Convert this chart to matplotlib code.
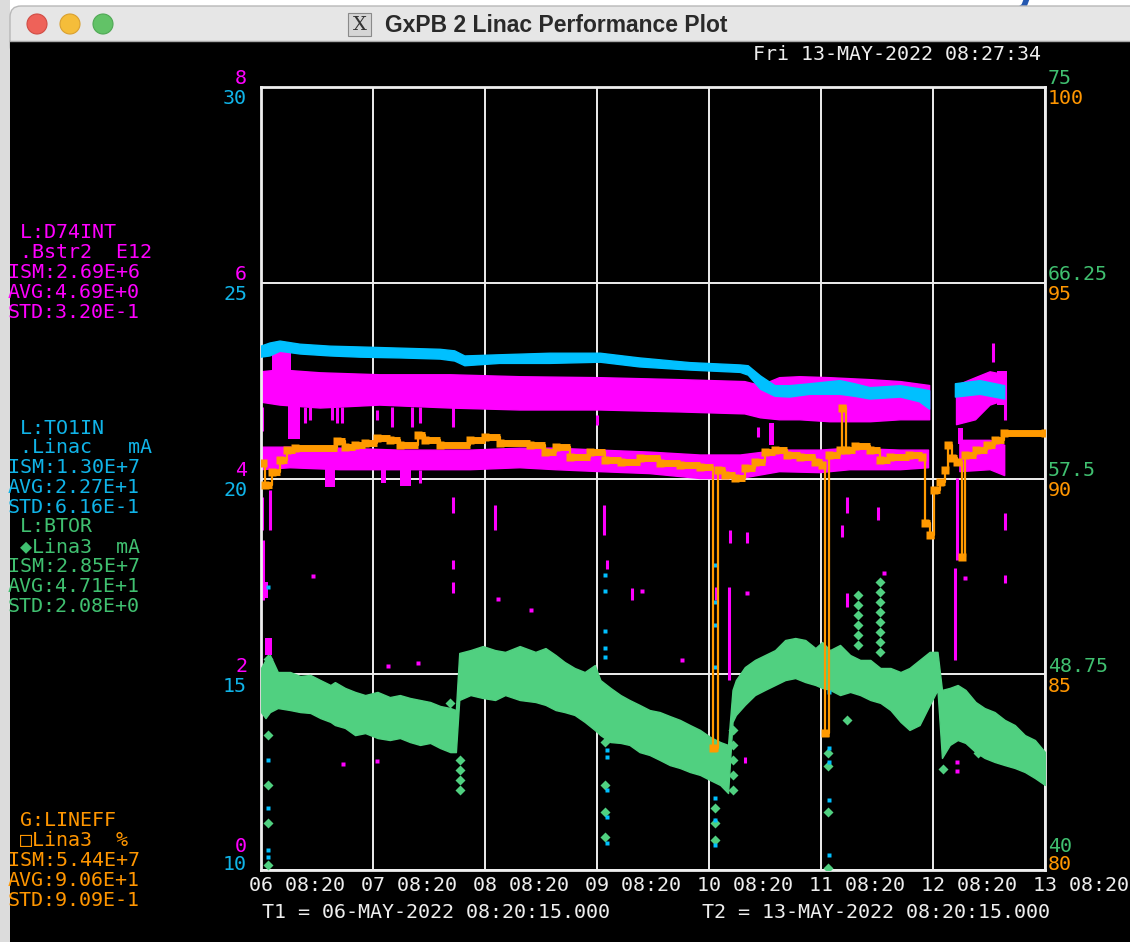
import matplotlib
matplotlib.use('Agg')
import matplotlib.pyplot as plt
from matplotlib.patches import Rectangle, Circle, FancyBboxPatch
from matplotlib.transforms import ScaledTranslation

# ---------------- data ----------------
day_ticks = [0, 1, 2, 3, 4, 5, 6, 7]
day_labels = ["06 08:20", "07 08:20", "08 08:20", "09 08:20", "10 08:20",
              "11 08:20", "12 08:20", "13 08:20"]
mag_ticks = [0, 2, 4, 6, 8]
mag_labels = ["0", "2", "4", "6", "8"]
cyan_ticks = [10, 15, 20, 25, 30]
cyan_labels = ["10", "15", "20", "25", "30"]
green_ticks = [40, 48.75, 57.5, 66.25, 75]
green_labels = ["40", "48.75", "57.5", "66.25", "75"]
orange_ticks = [80, 85, 90, 95, 100]
orange_labels = ["80", "85", "90", "95", "100"]

# L:TO1IN (cyan, mA) band
cy_t = [0.00, 0.08, 0.17, 0.35, 0.62, 0.88, 1.24, 1.60, 1.73, 1.82, 2.13, 2.58, 3.03, 3.38, 3.83,
        4.28, 4.35, 4.46, 4.59, 4.72, 4.90, 5.17, 5.30, 5.44, 5.71, 5.88, 5.97, 6.05, 6.20, 6.42, 6.64]
cy_hi = [23.38, 23.46, 23.51, 23.43, 23.38, 23.36, 23.33, 23.30, 23.26, 23.13, 23.16, 23.20, 23.20,
         23.08, 22.96, 22.90, 22.88, 22.62, 22.37, 22.37, 22.42, 22.50, 22.42, 22.32, 22.37, 22.29,
         22.24, float('nan'), 22.42, 22.50, 22.37]
cy_lo = [23.10, 23.13, 23.25, 23.18, 23.13, 23.10, 23.08, 23.05, 23.00, 22.88, 22.94, 22.94, 22.97,
         22.85, 22.77, 22.71, 22.64, 22.28, 22.10, 22.08, 22.15, 22.15, 22.10, 22.03, 22.08, 21.96,
         21.77, float('nan'), 22.08, 22.15, 22.03]
cy_dot_t = [0.06, 0.06, 0.06, 0.06, 0.06, 3.07, 3.07, 3.07, 3.07, 3.07, 3.09, 3.09, 3.09, 3.09, 3.09,
            4.05, 4.05, 4.05, 4.05, 4.05, 4.05, 4.05, 5.07, 5.07, 5.07, 5.07, 5.07]
cy_dot_v = [17.23, 12.81, 11.58, 10.51, 10.33, 17.54, 17.13, 16.10, 15.67, 15.44, 13.07, 12.89, 12.04,
            11.35, 10.69, 17.79, 16.85, 16.26, 15.19, 11.84, 11.28, 10.64, 14.55, 13.12, 12.76, 11.79,
            10.38]

# L:D74INT (magenta, E12) upper and lower bands
mu_t = [0.00, 0.17, 0.53, 1.06, 1.69, 2.31, 3.03, 3.74, 4.32, 4.46, 4.63, 4.81, 5.08, 5.44, 5.71,
        5.97, 6.05, 6.21, 6.38, 6.51, 6.64]
mu_hi = [5.09, 5.11, 5.08, 5.06, 5.06, 5.04, 5.03, 5.01, 4.99, 4.95, 5.03, 5.04, 5.03, 5.01, 4.99,
         4.95, float('nan'), 4.95, 5.03, 5.09, 5.06]
mu_lo = [4.78, 4.75, 4.72, 4.75, 4.72, 4.70, 4.70, 4.68, 4.66, 4.62, 4.60, 4.60, 4.58, 4.58, 4.60,
         4.60, float('nan'), 4.55, 4.60, 4.75, 4.80]
ml_t = [0.00, 0.26, 0.71, 1.24, 1.87, 2.31, 2.63, 3.03, 3.47, 3.92, 4.28, 4.63, 4.99, 5.26, 5.71,
        5.96, 6.05, 6.24, 6.51, 6.64]
ml_hi = [4.32, 4.32, 4.31, 4.29, 4.29, 4.31, 4.31, 4.29, 4.27, 4.24, 4.24, 4.29, 4.29, 4.31, 4.29,
         4.29, float('nan'), 4.39, 4.39, 4.34]
ml_lo = [4.09, 4.11, 4.09, 4.09, 4.09, 4.11, 4.09, 4.07, 4.05, 4.00, 4.00, 4.07, 4.06, 4.09, 4.09,
         4.11, float('nan'), 4.07, 4.09, 4.03]
# magenta dropouts (vertical dashes)
md_t = [0.01, 0.01, 0.02, 0.08, 0.39, 0.44, 0.63, 0.68, 0.72, 1.04, 1.17, 1.35, 1.42, 1.42, 1.71,
        1.71, 1.71, 1.71, 2.09, 3.00, 3.06, 3.09, 3.31, 4.06, 4.18, 4.19, 4.32, 4.34, 4.44, 5.19,
        5.23, 5.23, 5.51, 6.20, 6.21, 6.54, 6.64, 6.64, 6.64]
md_lo = [4.49, 3.47, 2.76, 3.47, 4.57, 4.60, 4.60, 4.57, 4.57, 4.60, 4.53, 4.53, 4.57, 3.95, 4.53,
         3.65, 3.08, 2.83, 3.47, 4.55, 3.42, 3.08, 2.76, 2.76, 1.94, 3.34, 1.09, 3.34, 4.42, 3.40,
         3.65, 2.69, 3.58, 2.15, 3.17, 5.19, 4.60, 3.47, 2.93]
md_hi = [4.73, 3.81, 3.37, 3.88, 4.73, 4.73, 4.73, 4.73, 4.73, 4.70, 4.73, 4.73, 4.73, 4.09, 4.73,
         3.81, 3.17, 2.94, 3.73, 4.65, 3.73, 3.17, 2.88, 2.89, 2.89, 3.47, 1.15, 3.45, 4.53, 3.52,
         3.81, 2.83, 3.71, 3.09, 4.01, 5.38, 5.01, 3.65, 3.01]
# magenta blocks (t0, t1, lo, hi)
mb_t0 = [0.10, 0.24, 0.57, 1.07, 1.24, 4.54, 6.22, 6.57, 0.02, 0.04]
mb_t1 = [0.27, 0.35, 0.66, 1.12, 1.34, 4.58, 6.27, 6.66, 0.06, 0.10]
mb_lo = [5.00, 4.40, 3.91, 3.95, 3.92, 4.34, 4.35, 4.75, 2.78, 2.20]
mb_hi = [5.34, 4.80, 4.22, 4.10, 4.10, 4.57, 4.52, 5.10, 2.94, 2.37]
# magenta isolated dots
mdot_t = [0.46, 1.13, 1.40, 0.73, 1.04, 2.12, 2.41, 3.40, 3.76, 4.34, 5.56, 6.29, 6.21, 6.21]
mdot_v = [3.00, 2.08, 2.12, 1.08, 1.11, 2.77, 2.66, 2.85, 2.15, 2.83, 3.03, 2.98, 1.10, 1.01]

# L:BTOR (green, mA) band
gr_t = [0.00, 0.04, 0.08, 0.15, 0.26, 0.35, 0.44, 0.53, 0.62, 0.66, 0.75, 0.84, 0.93, 1.04, 1.15,
        1.24, 1.33, 1.42, 1.51, 1.60, 1.69, 1.74, 1.77, 1.87, 1.98, 2.09, 2.18, 2.31, 2.45, 2.54,
        2.63, 2.71, 2.80, 2.89, 2.98, 3.03, 3.12, 3.21, 3.29, 3.38, 3.47, 3.56, 3.65, 3.74, 3.83,
        3.92, 4.01, 4.10, 4.17, 4.21, 4.24, 4.32, 4.41, 4.50, 4.59, 4.68, 4.77, 4.86, 4.95, 5.01,
        5.08, 5.17, 5.26, 5.35, 5.44, 5.53, 5.62, 5.71, 5.79, 5.88, 5.97, 6.04, 6.08, 6.15, 6.22,
        6.29, 6.38, 6.46, 6.55, 6.64, 6.73, 6.82, 6.91, 7.00]
gr_hi = [49.03, 49.39, 49.61, 48.85, 48.85, 48.67, 48.72, 48.49, 48.27, 48.40, 48.14, 47.96, 47.82,
         47.96, 47.73, 47.82, 47.69, 47.60, 47.51, 47.33, 47.24, 47.15, 49.70, 49.83, 50.01, 49.83,
         49.75, 50.01, 49.75, 49.92, 49.61, 49.30, 49.03, 48.85, 49.16, 48.49, 48.14, 47.82, 47.60,
         47.38, 47.15, 47.06, 46.88, 46.71, 46.48, 46.26, 45.95, 45.72, 45.59, 48.05, 48.49, 49.07,
         49.39, 49.61, 49.83, 50.28, 50.37, 50.28, 49.92, 50.19, 49.83, 50.06, 49.61, 49.39, 49.39,
         49.03, 49.03, 48.85, 49.03, 49.39, 49.75, 49.75, 48.05, 48.14, 48.27, 48.05, 47.51, 47.24,
         47.06, 46.71, 46.48, 46.03, 45.81, 45.27]
gr_lo = [47.06, 46.79, 47.06, 47.24, 47.15, 47.06, 47.02, 46.79, 46.62, 46.48, 46.35, 46.03, 46.12,
         45.90, 45.81, 45.90, 45.72, 45.59, 45.68, 45.45, 45.27, 45.27, 47.60, 47.82, 47.69, 47.60,
         47.82, 47.60, 47.51, 47.38, 47.15, 47.06, 46.93, 46.62, 46.26, 46.03, 45.72, 45.68, 45.59,
         45.27, 45.14, 44.92, 44.69, 44.56, 44.38, 44.25, 44.02, 43.80, 43.44, 46.62, 46.93, 47.38,
         47.82, 48.05, 48.27, 48.49, 48.58, 48.40, 48.27, 48.14, 48.05, 47.82, 47.96, 47.82, 47.60,
         47.47, 47.15, 46.62, 46.26, 46.48, 47.38, 48.05, 45.01, 45.59, 45.81, 45.68, 45.27, 45.01,
         44.83, 44.69, 44.56, 44.38, 44.11, 43.80]
# green isolated points / spike columns
gs_t = [0.06, 0.06, 0.06, 0.06, 0.06, 0.06, 1.78, 1.78, 1.78, 1.78, 3.07, 3.07, 3.07, 3.07, 4.05,
        4.05, 4.05, 5.06, 5.06, 5.06, 5.06, 5.23, 6.09, 6.40, 1.69,
        5.33, 5.33, 5.33, 5.33, 5.33, 5.33, 5.53, 5.53, 5.53, 5.53, 5.53, 5.53, 5.53, 5.53,
        4.21, 4.21, 4.21, 4.21, 4.21]
gs_v = [49.43, 48.99, 46.03, 43.80, 42.10, 40.22, 44.92, 44.47, 44.02, 43.58, 45.72, 43.80, 42.59,
        41.48, 42.77, 42.10, 41.34, 45.23, 44.65, 42.59, 40.09, 46.71, 44.51, 45.23, 47.47,
        52.29, 51.84, 51.40, 50.95, 50.51, 50.06, 52.87, 52.43, 51.98, 51.53, 51.09, 50.64, 50.19,
        49.75, 46.26, 45.59, 44.92, 44.25, 43.58]

# G:LINEFF (orange, %)
or_t = [0.02, 0.04, 0.10, 0.17, 0.23, 0.30, 0.68, 0.75, 0.84, 0.93, 1.04, 1.15, 1.24, 1.40, 1.46,
        1.60, 1.87, 2.00, 2.13, 2.40, 2.54, 2.63, 2.76, 2.94, 3.07, 3.21, 3.38, 3.56, 3.74, 3.92,
        4.04, 4.08, 4.14, 4.23, 4.32, 4.41, 4.50, 4.59, 4.70, 4.81, 4.95, 5.01, 5.04, 5.07, 5.17,
        5.19, 5.22, 5.30, 5.44, 5.53, 5.62, 5.79, 5.90, 5.93, 5.97, 6.01, 6.06, 6.11, 6.13, 6.17,
        6.21, 6.26, 6.29, 6.38, 6.48, 6.55, 6.63, 7.00]
or_v = [90.40, 89.83, 90.17, 90.47, 90.73, 90.78, 90.96, 90.80, 90.86, 90.91, 91.03, 90.98, 90.86,
        91.11, 90.98, 90.86, 90.98, 91.06, 90.91, 90.86, 90.68, 90.80, 90.55, 90.68, 90.47, 90.42,
        90.52, 90.40, 90.34, 90.29, 83.12, 90.22, 90.09, 90.01, 90.27, 90.42, 90.68, 90.73, 90.60,
        90.55, 90.42, 90.34, 83.50, 90.60, 90.73, 91.80, 90.73, 90.83, 90.73, 90.47, 90.55, 90.60,
        90.55, 88.86, 88.56, 89.71, 89.91, 90.22, 90.86, 90.52, 90.42, 87.99, 90.60, 90.73, 90.86,
        90.98, 91.16, 91.16]

legend_mag = [" L:D74INT", " .Bstr2  E12", "ISM:2.69E+6", "AVG:4.69E+0", "STD:3.20E-1"]
legend_cyan = [" L:TO1IN", " .Linac   mA", "ISM:1.30E+7", "AVG:2.27E+1", "STD:6.16E-1"]
legend_green = [" L:BTOR", " \u25c6Lina3  mA", "ISM:2.85E+7", "AVG:4.71E+1", "STD:2.08E+0"]
legend_orange = [" G:LINEFF", " \u25a1Lina3  %", "ISM:5.44E+7", "AVG:9.06E+1", "STD:9.09E-1"]

title = "GxPB 2 Linac Performance Plot"
stamp = "Fri 13-MAY-2022 08:27:34"
t1_text = "T1 = 06-MAY-2022 08:20:15.000"
t2_text = "T2 = 13-MAY-2022 08:20:15.000"

# ---------------- style ----------------
MAG = '#ff00ff'
CYAN = '#00c0ff'
GREEN = '#50d080'
ORANGE = '#ff9900'
CYAN_TXT = '#10b4e8'
GREEN_TXT = '#40c070'
ORANGE_TXT = '#ff9600'
WHITE = '#eeeeee'
MONO = ['DejaVu Sans Mono', 'DejaVu Sans']
FS = 14.4

W, H = 1130, 942
fig = plt.figure(figsize=(W / 100, H / 100), dpi=100, facecolor='white')

bg = fig.add_axes([0, 0, 1, 1])
bg.set_xlim(0, W)
bg.set_ylim(H, 0)
bg.axis('off')

# window chrome
bg.plot([1027, 1024, 1017, 1010], [-2, 6, 11, 10], color='#2458b0', lw=4,
        solid_capstyle='round', zorder=0.5)
bg.add_patch(Rectangle((0, 0), 10, H, facecolor='#dcdcdc', edgecolor='none', zorder=0.6))
bg.add_patch(FancyBboxPatch((10, 6), W + 20, 50, boxstyle='round,pad=0,rounding_size=11',
                            facecolor='#e6e6e6', edgecolor='#b8b8b8', lw=1, zorder=1))
bg.add_patch(Rectangle((10, 41), W, H - 41, facecolor='black', edgecolor='none', zorder=2))
bg.plot([10, W], [41, 41], color='#a8a8a8', lw=1, zorder=2.5)
for cx, fc, ec in [(37, '#ee6259', '#d04c44'), (70, '#f5bd3a', '#d9a030'), (103, '#62c267', '#4fa854')]:
    bg.add_patch(Circle((cx, 24), 10, facecolor=fc, edgecolor=ec, lw=0.8, zorder=3))
bg.add_patch(Rectangle((348, 13), 23, 23, facecolor='#d6d6d6', edgecolor='#8a8a8a', lw=0.8, zorder=3))
bg.text(359.5, 24.5, 'X', fontsize=14, family='DejaVu Serif', color='#333333', ha='center',
        va='center', zorder=4)
bg.text(385, 25, title, fontsize=16.5, fontweight='bold', family='Liberation Sans',
        color='#2a2a2a', va='center', zorder=4)

# header/footer text
bg.text(753, 55, stamp, fontsize=FS, family=MONO, color=WHITE, va='center', zorder=4)
bg.text(262, 912, t1_text, fontsize=FS, family=MONO, color=WHITE, va='center', zorder=4)
bg.text(702, 912, t2_text, fontsize=FS, family=MONO, color=WHITE, va='center', zorder=4)

# left legend blocks
for lines, y0, col in [(legend_mag, 233, MAG), (legend_cyan, 428, CYAN_TXT),
                       (legend_green, 527, GREEN_TXT), (legend_orange, 821, ORANGE_TXT)]:
    for i, s in enumerate(lines):
        bg.text(8, y0 + 19.8 * i, s, fontsize=FS, family=MONO, color=col, va='center', zorder=4)

# ---------------- data axes ----------------
rect = [261 / W, 1 - 870 / H, 784 / W, 783 / H]
ax = fig.add_axes(rect)
ax.set_facecolor('black')
ax.set_xlim(0, 7)
ax.set_ylim(0, 8)
ax_g = ax.twinx()
ax_g.set_ylim(40, 75)
ax_c = ax.twinx()
ax_c.set_ylim(10, 30)
ax_c.yaxis.tick_left()
ax_o = ax.twinx()
ax_o.set_ylim(80, 100)

for a in (ax_g, ax_c, ax_o):
    a.patch.set_visible(False)
    for s in a.spines.values():
        s.set_visible(False)
for s in ax.spines.values():
    s.set_color(WHITE)
    s.set_linewidth(2)

ax.set_axisbelow(True)
ax.grid(True, color=WHITE, lw=1.4)

# magenta
ax.fill_between(mu_t, mu_lo, mu_hi, color=MAG, lw=1, zorder=2)
ax.fill_between(ml_t, ml_lo, ml_hi, color=MAG, lw=1, zorder=2)
ax.bar(mb_t0, [h - l for h, l in zip(mb_hi, mb_lo)], bottom=mb_lo,
       width=[b - a for a, b in zip(mb_t0, mb_t1)], align='edge', color=MAG, lw=0, zorder=2)
ax.vlines(md_t, md_lo, md_hi, color=MAG, lw=2.2, zorder=2)
ax.plot(mdot_t, mdot_v, 's', color=MAG, ms=2.2, mec='none', zorder=2)

# green
ax_g.fill_between(gr_t, gr_lo, gr_hi, color=GREEN, lw=1)
ax_g.plot(gs_t, gs_v, 'D', color=GREEN, ms=5, mec='none')

# cyan
ax_c.fill_between(cy_t, cy_lo, cy_hi, color=CYAN, lw=1)
ax_c.plot(cy_dot_t, cy_dot_v, 's', color=CYAN, ms=2.2, mec='none')

# orange
ax_o.plot(or_t, or_v, drawstyle='steps-post', color=ORANGE, lw=1.6)
ax_o.hlines(or_v[:-1], or_t[:-1], or_t[1:], color=ORANGE, lw=5)
ax_o.plot(or_t, or_v, 's', color=ORANGE, ms=6, mec='none')

# ticks
ax.set_xticks(day_ticks)
ax.set_xticklabels(day_labels)
ax.set_yticks(mag_ticks)
ax.set_yticklabels(mag_labels)
ax_c.set_yticks(cyan_ticks)
ax_c.set_yticklabels(cyan_labels)
ax_g.set_yticks(green_ticks)
ax_g.set_yticklabels(green_labels)
ax_o.set_yticks(orange_ticks)
ax_o.set_yticklabels(orange_labels)

ax.tick_params(axis='x', length=0, pad=4, colors=WHITE, labelsize=FS)
ax.tick_params(axis='y', length=0, pad=10, colors=MAG, labelsize=FS)
ax_c.tick_params(axis='y', length=0, pad=10, colors=CYAN_TXT, labelsize=FS)
ax_g.tick_params(axis='y', length=0, pad=2, colors=GREEN_TXT, labelsize=FS)
ax_o.tick_params(axis='y', length=0, pad=2, colors=ORANGE_TXT, labelsize=FS)


def shift(labels, dx, dys):
    for lab, dy in zip(labels, dys):
        off = ScaledTranslation(dx / 100, dy / 100, fig.dpi_scale_trans)
        lab.set_family(MONO)
        lab.set_transform(lab.get_transform() + off)


for lab in ax.get_xticklabels():
    lab.set_ha('left')
shift(ax.get_xticklabels(), -12, [0] * 8)
upper_dy = [26, 10, 10, 10, 11]
lower_dy = [7, -10, -10, -10, -10]
shift(ax.get_yticklabels(), 0, upper_dy)
shift(ax_c.get_yticklabels(), 0, lower_dy)
shift(ax_g.get_yticklabels(), 0, upper_dy)
shift(ax_o.get_yticklabels(), 0, lower_dy)

fig.savefig('out.png', dpi=100, facecolor=fig.get_facecolor())
